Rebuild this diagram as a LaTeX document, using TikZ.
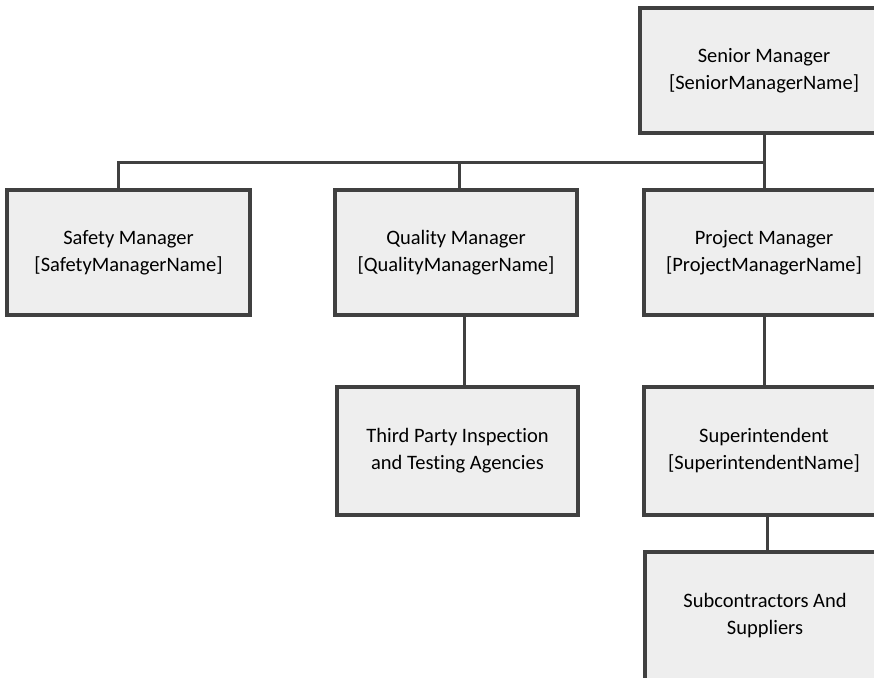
\documentclass[tikz,border=0pt]{standalone}
\usepackage{fontspec}
\setmainfont{Carlito}[Ligatures={NoCommon,NoRare},Contextuals=NoAlternate]
\definecolor{boxline}{HTML}{404040}
\definecolor{boxfill}{HTML}{EEEEEE}
\tikzset{orgbox/.style={rectangle,draw=boxline,fill=boxfill,line width=3.5pt,
           minimum width=240pt,minimum height=125pt,align=center,
           font=\fontsize{20.5}{27}\selectfont,text=black},
         orgline/.style={draw=boxline,line width=3pt}}

\begin{document}
\begin{tikzpicture}
        [x=1pt,y=-1pt]
        % page frame, the right column is cut off by the page edge
        \useasboundingbox (0,0) rectangle (874,677);
        \clip (0,0) rectangle (874,677);

        \node[orgbox,minimum width=248pt] (senior) at (764,70.5) {Senior Manager\\{}[SeniorManagerName]};
        \node[orgbox,minimum width=243pt] (safety) at (128.5,252.5) {Safety Manager\\{}[SafetyManagerName]};
        \node[orgbox,minimum width=242pt] (quality) at (456,252.5) {Quality Manager\\{}[QualityManagerName]};
        \node[orgbox] (project) at (764,252.5) {Project Manager\\{}[ProjectManagerName]};
        \node[orgbox,minimum width=241pt,minimum height=128pt] (third) at (457.5,451) {Third Party Inspection\\and Testing Agencies};
        \node[orgbox,minimum height=128pt] (super) at (764,451) {Superintendent\\{}[SuperintendentName]};
        \node[orgbox,minimum height=128pt] (sub) at (765,616) {Subcontractors And\\Suppliers};

        % bus under the senior manager
        \draw[orgline] (senior.south) -- ++(0,28) coordinate (bus);
        \draw[orgline] ([xshift=-10pt]safety.north) |- (bus);
        \draw[orgline] ([xshift=3pt]quality.north) -- ([xshift=3pt]quality.north |- bus);
        \draw[orgline] (project.north) -- (bus);
        \draw[orgline] ([xshift=8pt]quality.south) -- ([xshift=8pt]quality.south |- third.north);
        \draw[orgline] (project.south) -- (super.north);
        \draw[orgline] ([xshift=3pt]super.south) -- ([xshift=3pt]super.south |- sub.north);

\end{tikzpicture}
\end{document}
